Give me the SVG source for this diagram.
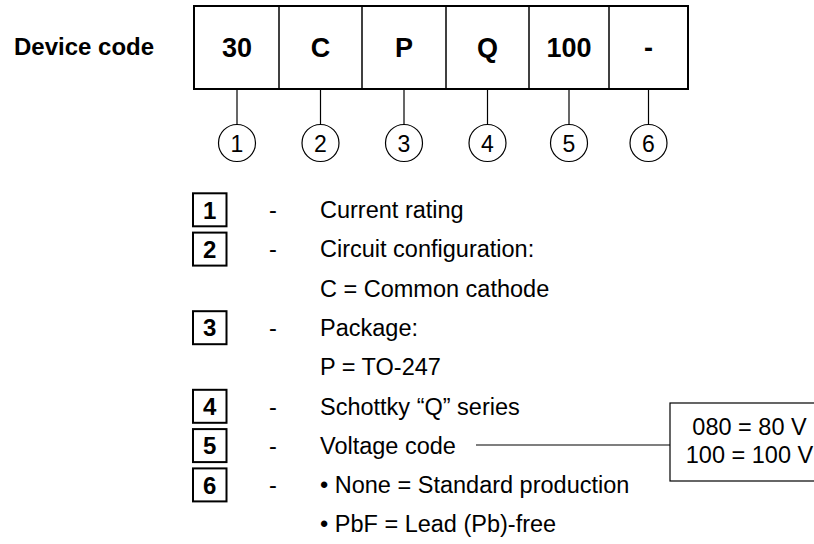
<svg xmlns="http://www.w3.org/2000/svg" width="814" height="544" viewBox="0 0 814 544">
<style>
text{font-family:"Liberation Sans",Arial,sans-serif;fill:#000}
.hd{font-size:24px;font-weight:bold}
.code{font-size:27px;font-weight:bold;text-anchor:middle}
.num{font-size:23px;text-anchor:middle}
.bn{font-size:24px;font-weight:bold;text-anchor:middle}
.lg{font-size:23.5px}
.dash{font-size:23.5px;text-anchor:middle}
.val{font-size:23.5px;text-anchor:middle}
.cell{fill:#fff;stroke:#000;stroke-width:2}
.div{stroke:#000;stroke-width:1.5;fill:none}
.conn{stroke:#000;stroke-width:1.2;fill:none}
.circ{fill:#fff;stroke:#000;stroke-width:1.2}
.lbox{fill:#fff;stroke:#000;stroke-width:2}
</style>
<text class="hd" x="14" y="55">Device code</text>
<g id="code-box">
<rect class="cell" x="194" y="6" width="494" height="83"/>
<line class="div" x1="279" y1="6" x2="279" y2="89"/>
<line class="div" x1="362" y1="6" x2="362" y2="89"/>
<line class="div" x1="446" y1="6" x2="446" y2="89"/>
<line class="div" x1="529" y1="6" x2="529" y2="89"/>
<line class="div" x1="609" y1="6" x2="609" y2="89"/>
<text class="code" x="237" y="57">30</text>
<text class="code" x="320.5" y="57">C</text>
<text class="code" x="404" y="57">P</text>
<text class="code" x="487.5" y="57">Q</text>
<text class="code" x="569" y="57">100</text>
<text class="code" x="648.5" y="57">-</text>
</g>
<g id="connectors">
<line class="conn" x1="237" y1="89" x2="237" y2="124"/>
<line class="conn" x1="320.5" y1="89" x2="320.5" y2="124"/>
<line class="conn" x1="404" y1="89" x2="404" y2="124"/>
<line class="conn" x1="487.5" y1="89" x2="487.5" y2="124"/>
<line class="conn" x1="569" y1="89" x2="569" y2="124"/>
<line class="conn" x1="648.5" y1="89" x2="648.5" y2="124"/>
<line class="conn" x1="476" y1="445" x2="670" y2="445"/>
</g>
<g id="c1"><circle class="circ" cx="237" cy="143" r="18.5"/><text class="num" x="237" y="151.5">1</text></g>
<g id="c2"><circle class="circ" cx="320.5" cy="143" r="18.5"/><text class="num" x="320.5" y="151.5">2</text></g>
<g id="c3"><circle class="circ" cx="404" cy="143" r="18.5"/><text class="num" x="404" y="151.5">3</text></g>
<g id="c4"><circle class="circ" cx="487.5" cy="143" r="18.5"/><text class="num" x="487.5" y="151.5">4</text></g>
<g id="c5"><circle class="circ" cx="569" cy="143" r="18.5"/><text class="num" x="569" y="151.5">5</text></g>
<g id="c6"><circle class="circ" cx="648.5" cy="143" r="18.5"/><text class="num" x="648.5" y="151.5">6</text></g>
<g id="legend1"><rect class="lbox" x="193" y="193.3" width="33.5" height="33"/><text class="bn" x="209.7" y="218.5">1</text><text class="dash" x="273" y="218">-</text><text class="lg" x="320" y="218">Current rating</text></g>
<g id="legend2"><rect class="lbox" x="193" y="232.6" width="33.5" height="33"/><text class="bn" x="209.7" y="257.8">2</text><text class="dash" x="273" y="257.3">-</text><text class="lg" x="320" y="257.3">Circuit configuration:</text><text class="lg" x="320" y="296.6">C = Common cathode</text></g>
<g id="legend3"><rect class="lbox" x="193" y="311.2" width="33.5" height="33"/><text class="bn" x="209.7" y="336.4">3</text><text class="dash" x="273" y="335.9">-</text><text class="lg" x="320" y="335.9">Package:</text><text class="lg" x="320" y="375.2">P = TO-247</text></g>
<g id="legend4"><rect class="lbox" x="193" y="389.8" width="33.5" height="33"/><text class="bn" x="209.7" y="415">4</text><text class="dash" x="273" y="414.5">-</text><text class="lg" x="320" y="414.5">Schottky “Q” series</text></g>
<g id="legend5"><rect class="lbox" x="193" y="429.1" width="33.5" height="33"/><text class="bn" x="209.7" y="454.3">5</text><text class="dash" x="273" y="453.8">-</text><text class="lg" x="320" y="453.8">Voltage code</text></g>
<g id="legend6"><rect class="lbox" x="193" y="468.4" width="33.5" height="33"/><text class="bn" x="209.7" y="493.6">6</text><text class="dash" x="273" y="493.1">-</text><text class="lg" x="320" y="493.1">• None = Standard production</text><text class="lg" x="320" y="532.4">• PbF = Lead (Pb)-free</text></g>
<g id="voltage-box">
<rect x="670" y="403" width="160" height="78" fill="#fff" stroke="#000" stroke-width="1.2"/>
<text class="val" x="749.5" y="435">080 = 80 V</text>
<text class="val" x="749.5" y="463">100 = 100 V</text>
</g>
</svg>
